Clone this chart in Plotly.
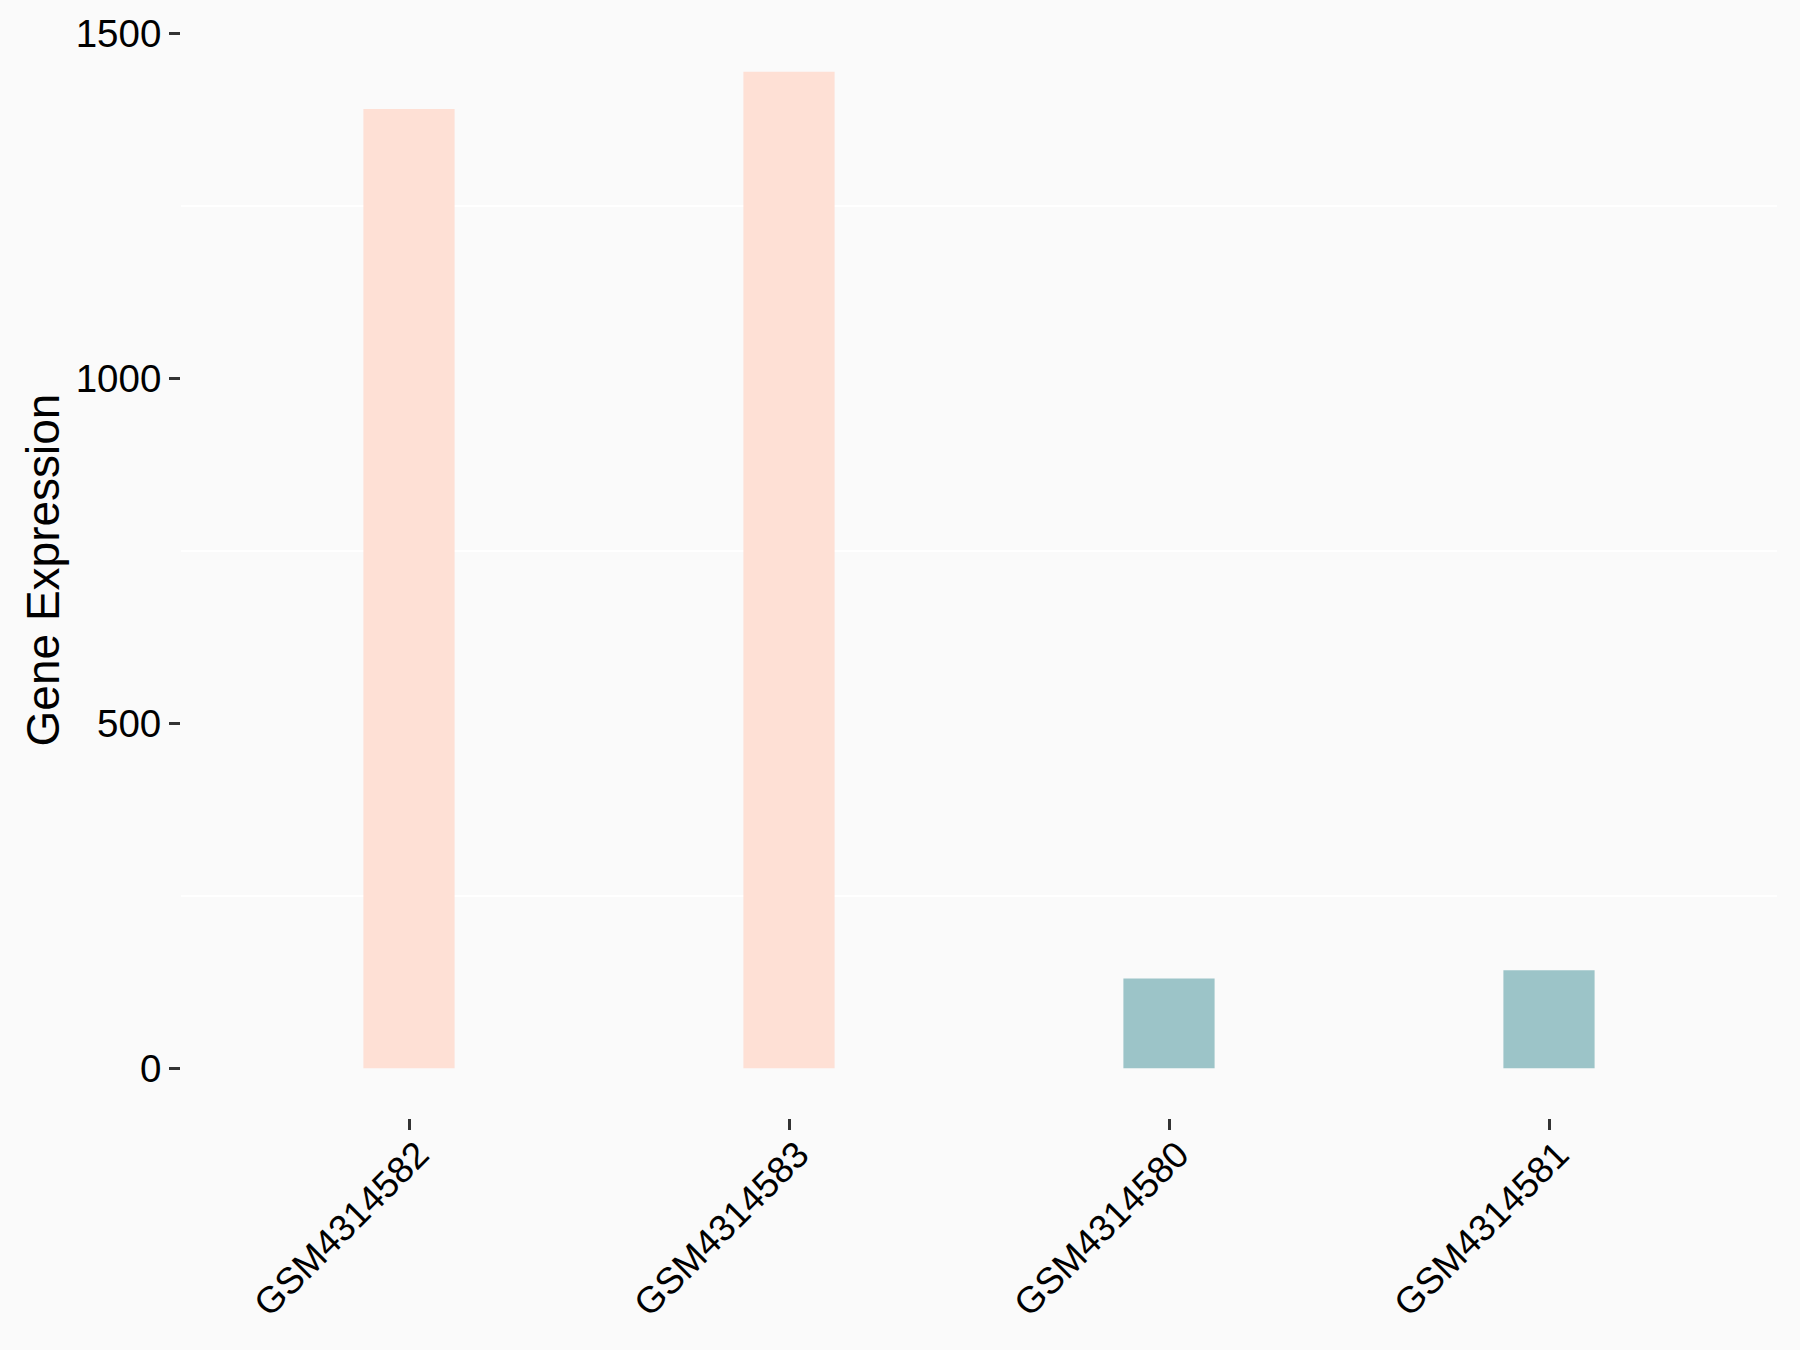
import plotly.graph_objects as go

samples = ["GSM4314582", "GSM4314583", "GSM4314580", "GSM4314581"]
expression = [1391, 1445, 130, 142]
groups = ["A", "A", "B", "B"]
group_colors = {"A": "#FEE0D5", "B": "#9CC4C8"}
y_ticks = [0, 500, 1000, 1500]
y_minor = [250, 750, 1250]

fig = go.Figure()
fig.add_trace(go.Bar(
    x=samples,
    y=expression,
    marker=dict(color=[group_colors[g] for g in groups], line=dict(width=0)),
    width=0.24,
    showlegend=False,
))

font_family = "Arial, Liberation Sans, sans-serif"
fig.update_layout(
    width=1800, height=1350,
    paper_bgcolor="#FAFAFA", plot_bgcolor="#FAFAFA",
    margin=dict(l=181, r=23, t=22, b=232),
    font=dict(family=font_family, color="black", size=38),
)
fig.update_xaxes(
    type="category",
    range=[-0.6, 3.6],
    showgrid=False, showline=False, zeroline=False,
    ticks="outside", ticklen=11, tickwidth=2.5, tickcolor="#333333",
    tickangle=-45, ticklabelstandoff=-12, ticklabelshift=9,
    tickfont=dict(size=37, color="black", family=font_family),
)
fig.update_yaxes(
    range=[-72.25, 1517.25],
    tickvals=y_ticks,
    showgrid=False,
    zeroline=False, showline=False,
    ticks="outside", ticklen=11, tickwidth=2.5, tickcolor="#333333",
    tickfont=dict(size=38.5, color="black", family=font_family),
    minor=dict(tickvals=y_minor, showgrid=True, gridcolor="white", gridwidth=2, ticks=""),
    title=dict(text="Gene Expression", font=dict(size=46, color="black", family=font_family), standoff=1),
)

fig.write_html(
    "out.html",
    config={"displayModeBar": False},
    post_script="document.body.style.margin='0';document.body.style.background='#FAFAFA';document.body.style.overflow='hidden';",
)
